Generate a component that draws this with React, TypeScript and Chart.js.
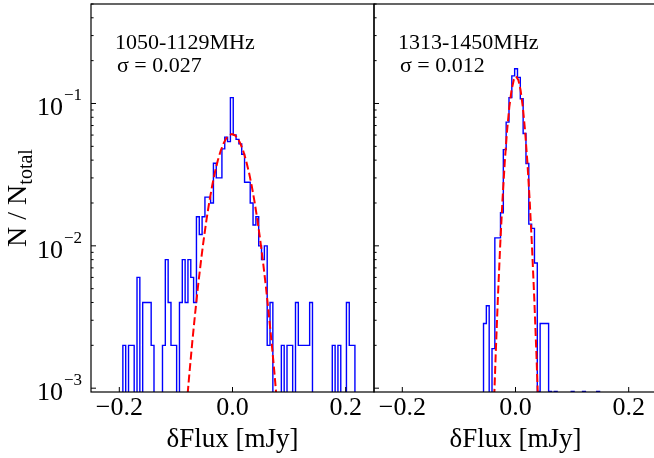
import React, { useEffect, useRef } from "react";
import { Chart, registerables } from "chart.js";

Chart.register(...registerables);

// ---------------- data ----------------
const X_MIN = -0.25;
const X_MAX = 0.25;
const Y_MIN = 0.00094;
const Y_MAX = 0.5;

const xTickValues = [-0.2, 0.0, 0.2];
const xTickLabels = ["\u22120.2", "0.0", "0.2"];
const yDecadeValues = [1e-3, 1e-2, 1e-1];
const yDecadeExponents = ["\u22123", "\u22122", "\u22121"];

const xAxisTitle = "\u03b4Flux [mJy]";
const yAxisTitleMain = "N / N";
const yAxisTitleSub = "total";

const leftBandLabel = "1050-1129MHz";
const leftSigmaLabel = "\u03c3 = 0.027";
const rightBandLabel = "1313-1450MHz";
const rightSigmaLabel = "\u03c3 = 0.012";

// left panel histogram (counts per bin)
const leftNTotal = 500;
const leftBinStart = -0.1937;
const leftBinWidth = 0.005;
const leftCounts = [
  1, 0, 1, 1, 0, 3, 0, 2, 2, 2,
  1, 0, 0, 0, 1, 4, 2, 1, 1, 0,
  2, 4, 2, 4, 3, 2, 8, 6, 8, 11,
  11, 10, 19, 15, 15, 24, 29, 27, 55, 30,
  28, 26, 22, 14, 14, 10, 7, 8, 5, 4,
  5, 1, 2, 0, 0, 0, 1, 0, 1, 1,
  0, 2, 1, 1, 1, 1, 2, 0, 0, 0,
  0, 0, 0, 0, 1, 0, 1, 0, 0, 2,
  1, 1,
];

// right panel histogram (counts per bin)
const rightNTotal = 1055;
const rightBinStart = -0.0565;
const rightBinWidth = 0.005;
const rightCounts = [
  3, 4, 0, 2, 12, 12, 18, 50, 78, 116,
  165, 185, 161, 114, 65, 40, 15, 14, 8, 1,
  3, 3, 3, 1, 0, 1, 0, 0, 0, 0,
  0, 1, 0, 0, 0, 1, 0, 0, 0, 0,
  1,
];

// gaussian fits
const leftFitX = [
  -0.081, -0.076, -0.071, -0.066, -0.061, -0.056, -0.051, -0.046, -0.041, -0.036,
  -0.031, -0.026, -0.021, -0.016, -0.011, -0.006, -0.001, 0.004, 0.009, 0.014,
  0.019, 0.024, 0.029, 0.034, 0.039, 0.044, 0.049, 0.054, 0.059, 0.064,
  0.069, 0.074, 0.079,
];
const leftFitY = [
  0.000757, 0.00129, 0.00212, 0.00336, 0.00517, 0.00766, 0.01098, 0.01521, 0.02036, 0.02633,
  0.0329, 0.03973, 0.04637, 0.05228, 0.05696, 0.05996, 0.061, 0.05996, 0.05696, 0.05228,
  0.04637, 0.03973, 0.0329, 0.02633, 0.02036, 0.01521, 0.01098, 0.00766, 0.00517, 0.00336,
  0.00212, 0.00129, 0.000757,
];
const rightFitX = [
  -0.039, -0.035, -0.031, -0.027, -0.023, -0.019, -0.015, -0.011, -0.007, -0.003,
  0.001, 0.005, 0.009, 0.013, 0.017, 0.021, 0.025, 0.029, 0.033, 0.037, 0.041,
];
const rightFitY = [
  0.000599, 0.001722, 0.004428, 0.01018, 0.02098, 0.03866, 0.0637, 0.094, 0.1241, 0.1466,
  0.155, 0.1466, 0.1241, 0.094, 0.0637, 0.03866, 0.02098, 0.01018, 0.004428, 0.001722, 0.000599,
];

// ---------------- helpers ----------------
const FONT = '"Liberation Serif", "Times New Roman", serif';
const W = 654;
const H = 458;

function histPoints(start: number, width: number, counts: number[], nTotal: number) {
  const floor = Y_MIN / 100;
  const pts: { x: number; y: number }[] = [{ x: start, y: floor }];
  counts.forEach((c, i) => {
    const v = c > 0 ? c / nTotal : floor;
    pts.push({ x: start + i * width, y: v });
    pts.push({ x: start + (i + 1) * width, y: v });
  });
  pts.push({ x: start + counts.length * width, y: floor });
  return pts;
}

function fitPoints(xs: number[], ys: number[]) {
  return xs.map((x, i) => ({ x, y: ys[i] }));
}

function makeAxesPlugin(opts: {
  showYLabels: boolean;
  band: string;
  sigma: string;
}) {
  return {
    id: "customAxes",
    afterDraw(chart: any) {
      const { ctx, chartArea: a, scales } = chart;
      const xs = scales.x;
      const ys = scales.y;
      ctx.save();
      ctx.strokeStyle = "#000";
      ctx.fillStyle = "#000";
      ctx.lineWidth = 1.2;
      ctx.strokeRect(a.left, a.top, a.right - a.left, a.bottom - a.top);

      // x ticks
      ctx.lineWidth = 1;
      ctx.font = `26px ${FONT}`;
      ctx.textAlign = "center";
      ctx.textBaseline = "alphabetic";
      xTickValues.forEach((v, i) => {
        const px = xs.getPixelForValue(v);
        ctx.beginPath();
        ctx.moveTo(px, a.bottom);
        ctx.lineTo(px, a.bottom - 5);
        ctx.stroke();
        ctx.fillText(xTickLabels[i], px, a.bottom + 22.5);
      });

      // y ticks (major + minor)
      for (let e = -4; e <= 0; e++) {
        for (let m = 1; m <= 9; m++) {
          const v = Number((m * Math.pow(10, e)).toPrecision(3));
          if (v < Y_MIN || v > Y_MAX) continue;
          const py = ys.getPixelForValue(v);
          const len = m === 1 ? 5 : 2.6;
          ctx.beginPath();
          ctx.moveTo(a.left, py);
          ctx.lineTo(a.left + len, py);
          ctx.stroke();
        }
      }

      if (opts.showYLabels) {
        yDecadeValues.forEach((v, i) => {
          const py = ys.getPixelForValue(v);
          ctx.font = `17px ${FONT}`;
          const supW = ctx.measureText(yDecadeExponents[i]).width;
          const right = a.left - 9;
          ctx.textAlign = "right";
          ctx.fillText(yDecadeExponents[i], right, py - 3);
          ctx.font = `26px ${FONT}`;
          ctx.fillText("10", right - supW - 1, py + 12);
        });

        // y axis title
        ctx.save();
        ctx.translate(26, (a.top + a.bottom) / 2);
        ctx.rotate(-Math.PI / 2);
        ctx.font = `28px ${FONT}`;
        const mainW = ctx.measureText(yAxisTitleMain).width;
        ctx.font = `20px ${FONT}`;
        const subW = ctx.measureText(yAxisTitleSub).width;
        const total = mainW + subW;
        ctx.textAlign = "left";
        ctx.font = `28px ${FONT}`;
        ctx.fillText(yAxisTitleMain, -total / 2, 0);
        ctx.font = `20px ${FONT}`;
        ctx.fillText(yAxisTitleSub, -total / 2 + mainW, 6);
        ctx.restore();
      }

      // x axis title
      ctx.font = `27px ${FONT}`;
      ctx.textAlign = "center";
      ctx.fillText(xAxisTitle, (a.left + a.right) / 2, a.bottom + 55);

      // annotations
      ctx.font = `22px ${FONT}`;
      ctx.textAlign = "left";
      ctx.fillText(opts.band, a.left + 24, a.top + 44.5);
      ctx.fillText(opts.sigma, a.left + 26, a.top + 68);

      ctx.restore();
    },
  };
}

function buildChart(
  canvas: HTMLCanvasElement,
  padding: { left: number; right: number; top: number; bottom: number },
  hist: { x: number; y: number }[],
  fit: { x: number; y: number }[],
  plugin: any
) {
  return new Chart(canvas, {
    type: "line",
    data: {
      datasets: [
        {
          data: fit,
          borderColor: "#ff0000",
          borderWidth: 2,
          borderDash: [8, 3.5],
          pointRadius: 0,
          fill: false,
          tension: 0,
          order: 0,
        },
        {
          data: hist,
          borderColor: "#0000ff",
          borderWidth: 1.4,
          pointRadius: 0,
          fill: false,
          tension: 0,
          order: 1,
        },
      ],
    },
    options: {
      animation: false,
      responsive: false,
      devicePixelRatio: 1,
      events: [],
      layout: { padding },
      plugins: {
        legend: { display: false },
        tooltip: { enabled: false },
      },
      scales: {
        x: { type: "linear", min: X_MIN, max: X_MAX, display: false },
        y: { type: "logarithmic", min: Y_MIN, max: Y_MAX, display: false },
      },
    } as any,
    plugins: [plugin],
  } as any);
}

export default function App() {
  const leftRef = useRef<HTMLCanvasElement>(null);
  const rightRef = useRef<HTMLCanvasElement>(null);

  useEffect(() => {
    const top = 4;
    const bottom = H - 392;
    const left = buildChart(
      leftRef.current!,
      { left: 91, right: W - 374, top, bottom },
      histPoints(leftBinStart, leftBinWidth, leftCounts, leftNTotal),
      fitPoints(leftFitX, leftFitY),
      makeAxesPlugin({ showYLabels: true, band: leftBandLabel, sigma: leftSigmaLabel })
    );
    const right = buildChart(
      rightRef.current!,
      { left: 374, right: 700 - 657, top, bottom },
      histPoints(rightBinStart, rightBinWidth, rightCounts, rightNTotal),
      fitPoints(rightFitX, rightFitY),
      makeAxesPlugin({ showYLabels: false, band: rightBandLabel, sigma: rightSigmaLabel })
    );
    return () => {
      left.destroy();
      right.destroy();
    };
  }, []);

  return (
    <div
      style={{
        position: "absolute",
        left: 0,
        top: 0,
        width: W,
        height: H,
        overflow: "hidden",
        background: "#ffffff",
      }}
    >
      <canvas
        ref={leftRef}
        width={W}
        height={H}
        style={{ position: "absolute", left: 0, top: 0, width: W, height: H }}
      />
      <canvas
        ref={rightRef}
        width={700}
        height={H}
        style={{ position: "absolute", left: 0, top: 0, width: 700, height: H }}
      />
    </div>
  );
}
